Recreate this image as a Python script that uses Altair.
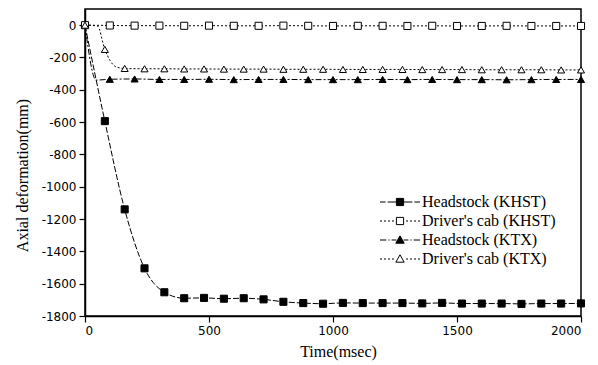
import altair as alt
import pandas as pd

series_names = ["Headstock (KHST)", "Driver's cab (KHST)", "Headstock (KTX)", "Driver's cab (KTX)"]

# Headstock (KHST)
head_khst_t = [0, 80, 160, 240, 320, 400, 480, 560, 640, 720, 800, 880, 960, 1040, 1120, 1200,
               1280, 1360, 1440, 1520, 1600, 1680, 1760, 1840, 1920, 2000]
head_khst_v = [0, -594, -1140, -1505, -1653, -1690, -1688, -1693, -1690, -1697, -1712, -1720, -1724,
               -1719, -1720, -1720, -1720, -1722, -1719, -1723, -1723, -1723, -1725, -1723, -1723, -1722]
head_khst_m = [False] + [True] * 25

# Driver's cab (KHST)
cab_khst_t = [0, 100, 200, 300, 400, 500, 600, 700, 800, 900, 1000, 1100, 1200, 1300, 1400, 1500,
              1600, 1700, 1800, 1900, 2000]
cab_khst_v = [0, -2, -3, -3, -4, -3, -4, -4, -3, -4, -5, -4, -4, -5, -4, -5, -5, -4, -5, -5, -5]
cab_khst_m = [True] * 21

# Headstock (KTX)
head_ktx_t = [0, 45, 100, 200, 300, 400, 500, 600, 700, 800, 900, 1000, 1100, 1200, 1300, 1400,
              1500, 1600, 1700, 1800, 1900, 2000]
head_ktx_v = [0, -340, -335, -333, -336, -336, -335, -337, -336, -336, -337, -337, -337, -336,
              -337, -336, -337, -337, -338, -337, -336, -336]
head_ktx_m = [False, False] + [True] * 20

# Driver's cab (KTX)
cab_ktx_t = [0, 50, 80, 125, 160, 240, 320, 400, 480, 560, 640, 720, 800, 880, 960, 1040, 1120,
             1200, 1280, 1360, 1440, 1520, 1600, 1680, 1760, 1840, 1920, 2000]
cab_ktx_v = [0, -5, -150, -258, -268, -270, -270, -271, -271, -272, -272, -272, -273, -273, -273,
             -274, -274, -274, -274, -275, -275, -275, -276, -276, -276, -276, -277, -277]
cab_ktx_m = [True, False, True, False] + [True] * 24

x_ticks = [0, 500, 1000, 1500, 2000]
y_ticks = [-1800, -1600, -1400, -1200, -1000, -800, -600, -400, -200, 0]

rows = []
for name, ts, vs, ms in [
    (series_names[0], head_khst_t, head_khst_v, head_khst_m),
    (series_names[1], cab_khst_t, cab_khst_v, cab_khst_m),
    (series_names[2], head_ktx_t, head_ktx_v, head_ktx_m),
    (series_names[3], cab_ktx_t, cab_ktx_v, cab_ktx_m),
]:
    for t, v, m in zip(ts, vs, ms):
        rows.append({"series": name, "t": t, "v": v, "marker": m})
df = pd.DataFrame(rows)

x_axis = alt.Axis(values=x_ticks, title="Time(msec)", titleX=253, titleY=40,
                  labelExpr="'' + datum.value", labelOverlap=False, titleBaseline="alphabetic")
y_axis = alt.Axis(values=y_ticks, title="Axial deformation(mm)", labelExpr="'' + datum.value",
                  labelOverlap=False, labelSeparation=0, titleX=-58, titleY=166,
                  titleBaseline="alphabetic", titleAngle=-90)

x_scale = alt.Scale(domain=[0, 2000], nice=False)
y_scale = alt.Scale(domain=[-1800, 100], nice=False, zero=False)

dash_scale = alt.Scale(domain=series_names, range=[[6, 2], [2, 2], [6, 2, 2, 2], [2, 2]])
shape_scale = alt.Scale(domain=series_names, range=["square", "square", "triangle-up", "triangle-up"])
fill_scale = alt.Scale(domain=series_names, range=["black", "white", "black", "white"])
stroke_scale = alt.Scale(domain=series_names, range=["black", "black", "black", "black"])

lines = alt.Chart(df).mark_line(color="black", strokeWidth=1, interpolate="monotone").encode(
    x=alt.X("t:Q", scale=x_scale, axis=x_axis),
    y=alt.Y("v:Q", scale=y_scale, axis=y_axis),
    detail="series:N",
    strokeDash=alt.StrokeDash("series:N", scale=dash_scale, legend=None),
)

points = alt.Chart(df).transform_filter("datum.marker").mark_point(
    size=50, stroke="black", strokeWidth=1, opacity=1
).encode(
    x=alt.X("t:Q", scale=x_scale, axis=x_axis),
    y=alt.Y("v:Q", scale=y_scale, axis=y_axis),
    shape=alt.Shape("series:N", scale=shape_scale, legend=None),
    fill=alt.Fill("series:N", scale=fill_scale, legend=None),
)

sq = "M-0.9,-0.9H0.9V0.9H-0.9Z"
tri = "M0,-1.05L1.05,0.8H-1.05Z"
dashed = "M-5,0H-3.6M-3.1,0H-0.9M0.9,0H3.1M3.6,0H5"
dotted = "M-5,0H-4.5M-4,0H-3.5M-3,0H-2.5M-2,0H-1.5M1.5,0H2M2.5,0H3M3.5,0H4M4.5,0H5"
dashdot = "M-5,0H-3.4M-2.9,0H-2.6M-2.1,0H-0.9M0.9,0H2.1M2.6,0H2.9M3.4,0H5"
legend_shape_scale = alt.Scale(domain=series_names,
                               range=[dashed + sq, dotted + sq, dashdot + tri, dotted + tri])

legend_opts = dict(
    title=None, orient="none", legendX=307, legendY=185,
    symbolSize=64, symbolStrokeColor="black", symbolStrokeWidth=1,
    symbolOpacity=1, labelFont="Liberation Serif", labelFontSize=16,
    labelColor="black", labelOffset=14, rowPadding=3, padding=0,
)

legend_layer = alt.Chart(df).transform_filter("false").mark_point(
    size=64, strokeWidth=1, opacity=1
).encode(
    x=alt.X("t:Q", scale=x_scale, axis=x_axis),
    y=alt.Y("v:Q", scale=y_scale, axis=y_axis),
    shape=alt.Shape("series:N", scale=legend_shape_scale, legend=alt.Legend(**legend_opts)),
    fill=alt.Fill("series:N", scale=fill_scale, legend=alt.Legend(**legend_opts)),
    stroke=alt.Stroke("series:N", scale=stroke_scale, legend=alt.Legend(**legend_opts)),
)

chart = alt.layer(lines, points, legend_layer).resolve_scale(
    shape="independent", fill="independent", stroke="independent"
).properties(
    width=496, height=307,
    autosize=alt.AutoSizeParams(type="none"),
    padding={"left": 85, "top": 9, "right": 17, "bottom": 49},
    background="white",
).configure_view(
    stroke="black", strokeWidth=1.5
).configure_axis(
    grid=False, domainColor="black", domainWidth=1.5, tickColor="black", tickWidth=1.2,
    tickSize=6, labelFont="DejaVu Sans", labelFontSize=12, labelColor="black", labelPadding=3,
    labelOverlap=False,
    titleFont="Liberation Serif", titleFontSize=16, titleFontWeight="normal", titleColor="black",
).configure_axisY(labelOverlap=False)

chart.save("out.html", embed_options={"renderer": "svg", "actions": False})
